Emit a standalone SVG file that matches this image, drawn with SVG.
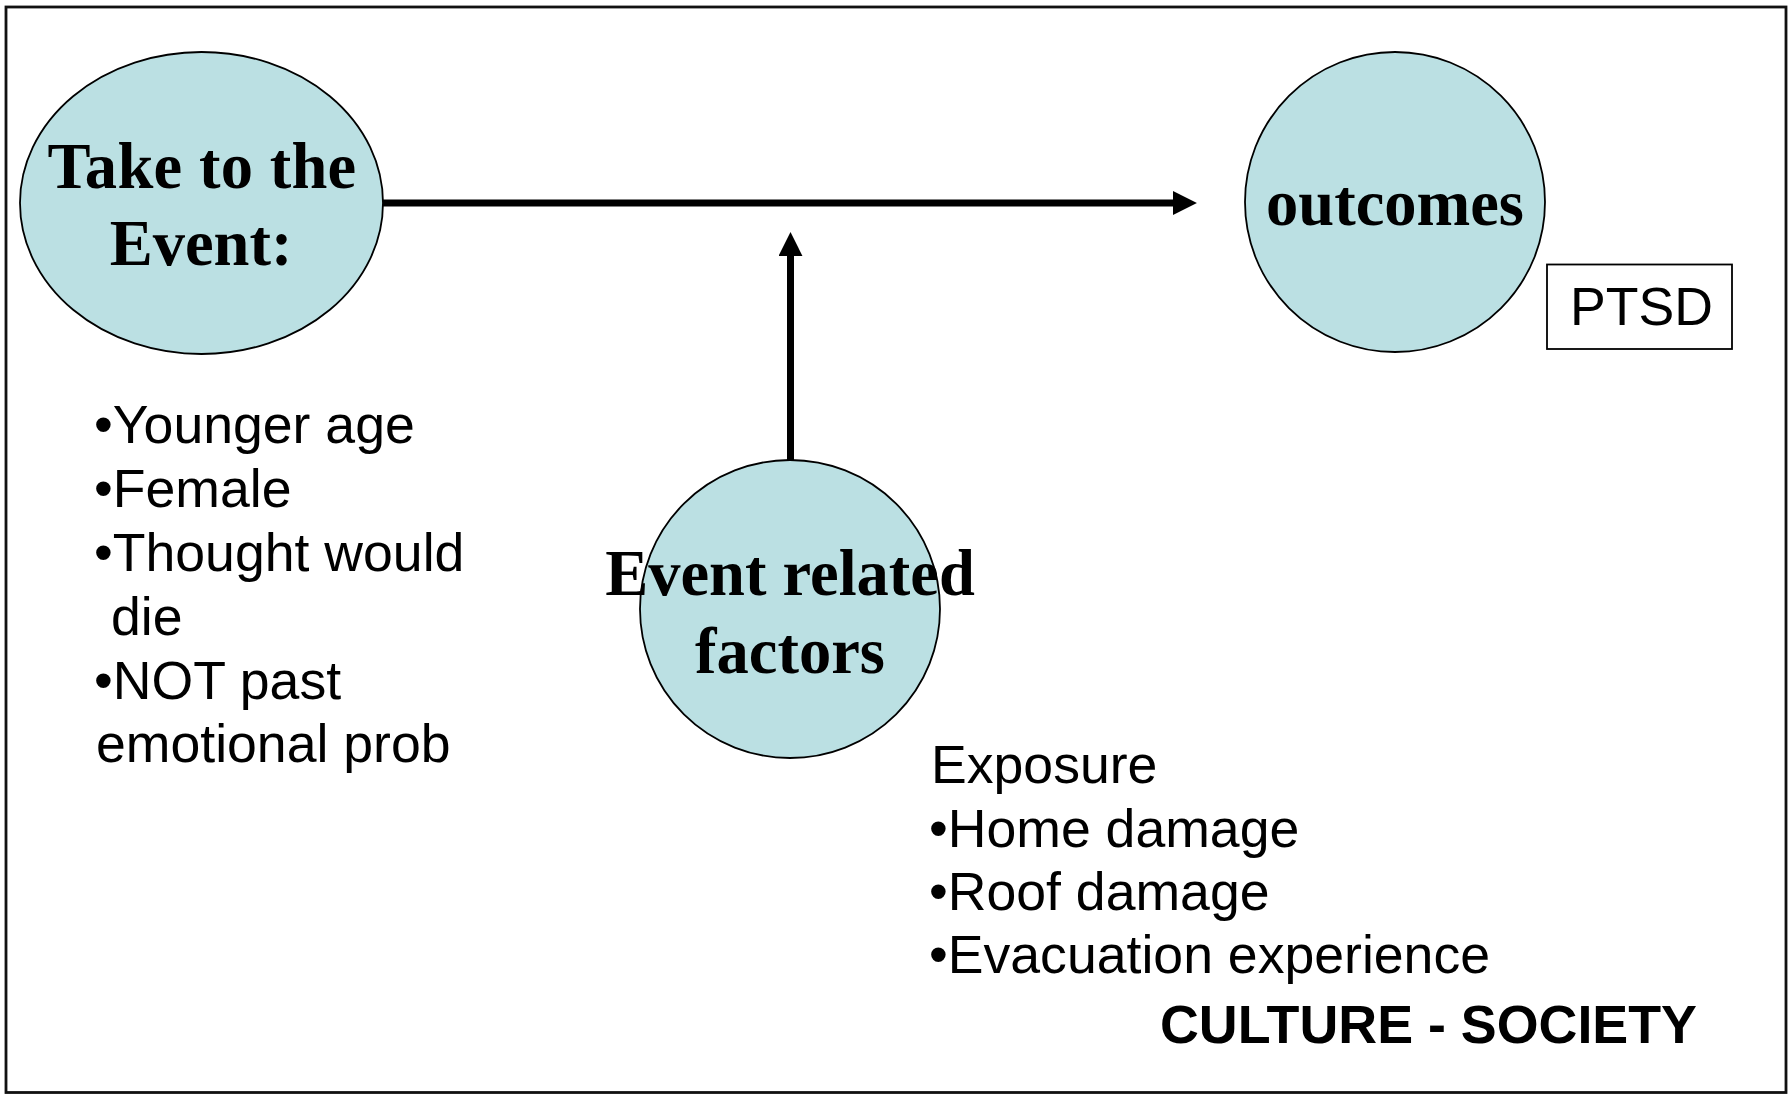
<svg xmlns="http://www.w3.org/2000/svg" width="1788" height="1095" viewBox="0 0 1788 1095">
  <style>
    .node { fill: #BBE0E3; stroke: #000; stroke-width: 1.8; }
    .title { font-family: "Liberation Serif", "Times New Roman", serif; font-weight: bold; font-size: 64.5px; fill: #000; text-anchor: middle; }
    .body { font-family: "Liberation Sans", Arial, sans-serif; font-size: 53.6px; fill: #000; }
    .bold { font-family: "Liberation Sans", Arial, sans-serif; font-size: 53.8px; font-weight: bold; fill: #000; }
    .conn { stroke: #000; stroke-width: 7; fill: none; }
  </style>
  <defs>
    <marker id="arrow" markerUnits="userSpaceOnUse" markerWidth="24" markerHeight="24" viewBox="0 0 23 23" refX="2" refY="11.5" orient="auto">
      <path d="M0,0 L23,11.5 L0,23 z" fill="#000"/>
    </marker>
  </defs>
  <rect x="6" y="7" width="1780" height="1085.5" fill="#fff" stroke="#111" stroke-width="2.8"/>

  <g id="connectors">
    <line class="conn" x1="383" y1="203" x2="1175" y2="203" marker-end="url(#arrow)"/>
    <line class="conn" x1="790.5" y1="460" x2="790.5" y2="254" marker-end="url(#arrow)"/>
  </g>

  <g id="node-take">
    <ellipse class="node" cx="201.5" cy="203" rx="181.5" ry="151"/>
    <text class="title" x="202" y="188" letter-spacing="0.3">Take to the</text>
    <text class="title" x="201" y="265">Event:</text>
  </g>

  <g id="node-outcomes">
    <ellipse class="node" cx="1395" cy="202" rx="150" ry="150"/>
    <text class="title" x="1395" y="225">outcomes</text>
  </g>

  <g id="node-event">
    <ellipse class="node" cx="790" cy="609" rx="150" ry="149"/>
    <text class="title" x="790" y="595">Event related</text>
    <text class="title" x="790" y="673">factors</text>
  </g>

  <g id="node-ptsd">
    <rect x="1547" y="264.5" width="185" height="84.5" fill="#fff" stroke="#000" stroke-width="1.8"/>
    <text class="body" x="1570" y="325">PTSD</text>
  </g>

  <g id="list-left">
    <text class="body" x="94" y="443">•Younger age</text>
    <text class="body" x="94" y="507">•Female</text>
    <text class="body" x="94" y="571">•Thought would</text>
    <text class="body" x="111" y="635">die</text>
    <text class="body" x="94" y="699">•NOT past</text>
    <text class="body" x="96" y="762">emotional prob</text>
  </g>

  <g id="list-right">
    <text class="body" x="931" y="783">Exposure</text>
    <text class="body" x="929" y="847">•Home damage</text>
    <text class="body" x="929" y="910">•Roof damage</text>
    <text class="body" x="929" y="973">•Evacuation experience</text>
  </g>

  <g id="label-culture">
    <text class="bold" x="1160" y="1043">CULTURE - SOCIETY</text>
  </g>
</svg>
